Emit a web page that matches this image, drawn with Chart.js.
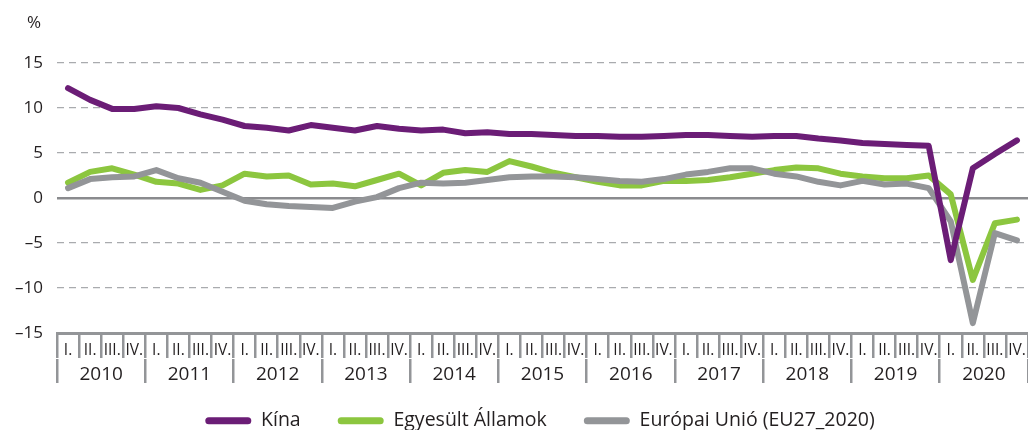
<!DOCTYPE html>
<html><head><meta charset="utf-8">
<script src="https://cdn.jsdelivr.net/npm/chart.js@4.4.1/dist/chart.umd.min.js"></script>
<style>html,body{margin:0;padding:0;background:#fff}canvas{display:block}</style>
</head><body>
<canvas id="c" width="1028" height="430"></canvas>
<script>
const years = ['2010','2011','2012','2013','2014','2015','2016','2017','2018','2019','2020'];
const quarterNames = ['I.','II.','III.','IV.'];
const yTicks = [-15,-10,-5,0,5,10,15];
const unitLabel = '%';
const seriesNames = ['Kína','Egyesült Államok','Európai Unió (EU27_2020)'];
const china = [12.2,10.9,9.9,9.9, 10.2,10.0,9.3,8.7, 8.0,7.8,7.5,8.1, 7.8,7.5,8.0,7.7, 7.5,7.6,7.2,7.3, 7.1,7.1,7.0,6.9, 6.9,6.8,6.8,6.9, 7.0,7.0,6.9,6.8, 6.9,6.9,6.6,6.4, 6.1,6.0,5.9,5.8, -6.9,3.3,4.9,6.4];
const usa = [1.7,2.9,3.3,2.6, 1.8,1.6,0.9,1.4, 2.7,2.4,2.5,1.5, 1.6,1.3,2.0,2.7, 1.4,2.8,3.1,2.9, 4.1,3.5,2.8,2.3, 1.8,1.4,1.4,1.9, 1.9,2.0,2.3,2.7, 3.1,3.4,3.3,2.7, 2.4,2.2,2.2,2.5, 0.4,-9.1,-2.8,-2.4];
const eu = [1.1,2.1,2.3,2.4, 3.1,2.2,1.7,0.7, -0.3,-0.7,-0.9,-1.0, -1.1,-0.4,0.1,1.1, 1.7,1.6,1.7,2.0, 2.3,2.4,2.4,2.3, 2.1,1.9,1.8,2.1, 2.6,2.9,3.3,3.3, 2.7,2.4,1.8,1.4, 1.9,1.5,1.6,1.1, -2.6,-13.9,-3.9,-4.7];

const quarterLabels = years.flatMap(() => quarterNames);
const colors = ['#6b1d76', '#8cc63f', '#939598'];
const textColor = '#231f20';
const axisGray = '#939598';
const FONT = "'Open Sans', sans-serif";
Chart.defaults.font.family = FONT;

function ds(label, data, color, order) {
  return { label, data, borderColor: color, backgroundColor: color, borderWidth: 6,
    borderCapStyle: 'round', borderJoinStyle: 'round', pointRadius: 0, tension: 0, order };
}

const extras = {
  id: 'extras',
  afterLayout(chart) {
    // raise legend row under the year labels and nudge it to the right
    chart.legend.top -= 12;
    chart.legend.left += 52;
  },
  afterDraw(chart) {
    const ctx = chart.ctx, y = chart.scales.y;
    ctx.save();
    ctx.fillStyle = textColor;
    ctx.font = '17px ' + FONT;
    ctx.textAlign = 'left';
    ctx.textBaseline = 'middle';
    ctx.fillText(unitLabel, y.left + 27, y.top - 40);
    ctx.restore();
  }
};

new Chart(document.getElementById('c'), {
  type: 'line',
  data: {
    labels: quarterLabels,
    datasets: [
      ds(seriesNames[0], china, colors[0], 0),
      ds(seriesNames[1], usa, colors[1], 2),
      ds(seriesNames[2], eu, colors[2], 1)
    ]
  },
  plugins: [extras],
  options: {
    responsive: false,
    animation: false,
    layout: { padding: { left: 0, right: 0, top: 63, bottom: 0 } },
    scales: {
      y: {
        min: -15, max: 15,
        afterBuildTicks: s => { s.ticks = yTicks.map(v => ({ value: v })); },
        afterFit: s => { s.width = 57; },
        ticks: { padding: 14, color: textColor, font: { size: 17 },
          callback: v => (v < 0 ? '\u2013' + Math.abs(v) : String(v)) },
        grid: {
          drawTicks: false,
          color: ctx => (ctx.tick && ctx.tick.value === 0) ? '#8a8b8e' : (ctx.tick && ctx.tick.value === -15 ? axisGray : '#a9abae'),
          lineWidth: ctx => (ctx.tick && ctx.tick.value === 0) ? 2.5 : (ctx.tick && ctx.tick.value === -15 ? 3 : 1.2)
        },
        border: { display: false,
          dash: ctx => (ctx.tick && (ctx.tick.value === 0 || ctx.tick.value === -15)) ? [] : [7, 5] }
      },
      x: {
        type: 'category', position: 'bottom', weight: 0, offset: true,
        grid: { offset: true, drawOnChartArea: false, tickLength: 25, color: axisGray, lineWidth: 2.5 },
        border: { display: true, color: axisGray, width: 3 },
        ticks: { autoSkip: false, maxRotation: 0, minRotation: 0, padding: -17, color: textColor, font: { size: 15.5 } },
        afterFit: s => { s.height = 26; }
      },
      x2: {
        type: 'category', labels: years, position: 'bottom', weight: 1, offset: true,
        grid: { offset: true, drawOnChartArea: false, tickLength: 24, color: axisGray, lineWidth: 2.5 },
        border: { display: false },
        ticks: { autoSkip: false, maxRotation: 0, minRotation: 0, padding: -20, color: textColor, font: { size: 19 } },
        afterFit: s => { s.height = 27; }
      }
    },
    plugins: {
      tooltip: { enabled: false },
      title: { display: false },
      legend: {
        position: 'bottom', maxHeight: 44,
        labels: {
          boxWidth: 46, boxHeight: 7, useBorderRadius: true, borderRadius: 3.5,
          padding: 37, color: textColor, font: { size: 19.5 },
          sort: (a, b) => a.datasetIndex - b.datasetIndex,
          generateLabels: chart => Chart.defaults.plugins.legend.labels.generateLabels(chart)
            .map(l => Object.assign(l, { lineWidth: 0 }))
        }
      }
    }
  }
});
</script>
</body></html>
